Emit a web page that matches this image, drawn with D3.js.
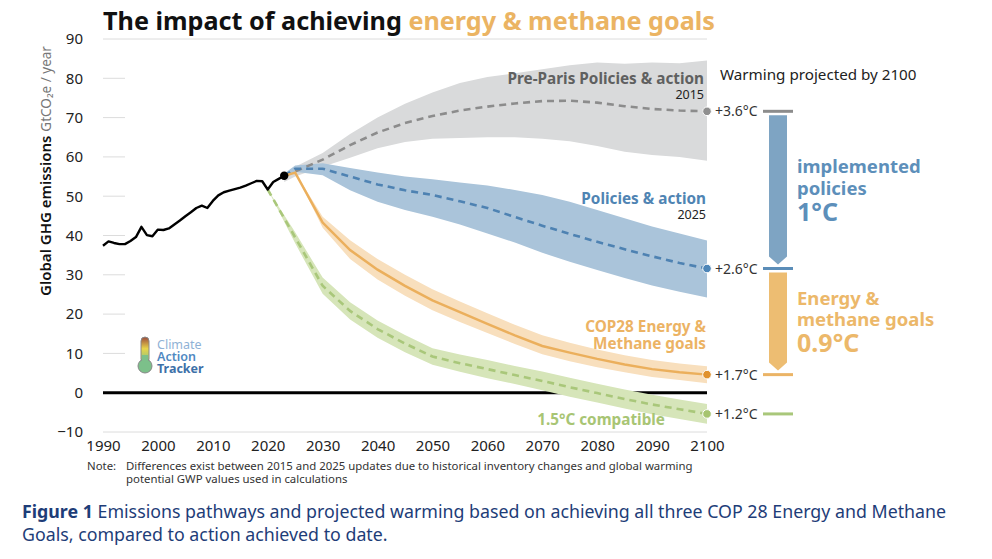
<!DOCTYPE html>
<html>
<head>
<meta charset="utf-8">
<script src="https://cdn.jsdelivr.net/npm/d3@7/dist/d3.min.js"></script>
<style>
  body { margin: 0; background: #fff; }
  svg { display: block; font-family: 'Noto Sans', 'Open Sans', sans-serif; }
</style>
</head>
<body>
<div id="chart"></div>
<script>
// historical emissions
const histYears = [1990, 1991, 1992, 1993, 1994, 1995, 1996, 1997, 1998, 1999, 2000, 2001, 2002, 2003, 2004, 2005, 2006,
  2007, 2008, 2009, 2010, 2011, 2012, 2013, 2014, 2015, 2016, 2017, 2018, 2019, 2020, 2021, 2022, 2023];
const histValues = [37.4, 38.5, 38.1, 37.8, 37.8, 38.6, 39.6, 42.2, 40.1, 39.8, 41.5, 41.4, 41.8, 42.8, 43.8, 44.9, 45.9,
  47.0, 47.6, 47.0, 48.8, 50.2, 51.0, 51.4, 51.8, 52.2, 52.7, 53.3, 53.9, 53.8, 51.7, 53.6, 54.4, 55.2];

// projections
const projYears = [2023, 2025, 2030, 2035, 2040, 2045, 2050, 2055, 2060, 2065, 2070, 2075, 2080, 2085, 2090, 2095, 2100];
const preParisMid = [55.2, 56.3, 59.3, 63.0, 66.2, 68.6, 70.4, 71.8, 72.8, 73.6, 74.2, 74.3, 73.8, 72.9, 72.2, 71.8, 71.6];
const preParisHigh = [55.6, 57.5, 61.0, 65.8, 70.0, 73.5, 76.4, 78.8, 80.3, 81.3, 82.3, 83.3, 84.0, 83.7, 84.0, 83.8, 84.5];
const preParisLow = [53.6, 55.0, 57.5, 59.8, 62.2, 63.8, 64.6, 64.8, 65.0, 65.0, 64.6, 64.0, 62.8, 61.3, 60.5, 60.0, 59.0];

const policyMid = [55.2, 57.0, 57.0, 55.0, 53.0, 51.5, 50.3, 48.7, 47.0, 44.7, 42.5, 40.4, 38.4, 36.5, 34.7, 33.0, 31.6];
const policyHigh = [55.8, 57.8, 58.4, 57.2, 56.0, 55.0, 54.3, 53.5, 52.7, 51.6, 50.3, 48.6, 46.5, 44.4, 42.3, 40.5, 38.7];
const policyLow = [55.0, 56.2, 55.3, 51.5, 48.6, 46.5, 44.8, 42.8, 40.5, 38.2, 35.6, 33.3, 31.2, 29.2, 27.3, 25.7, 24.2];

const cop28Mid = [55.2, 56.0, 43.3, 36.3, 31.3, 27.2, 23.5, 20.5, 17.5, 14.6, 11.9, 10.2, 8.6, 7.2, 6.0, 5.2, 4.6];
const cop28High = [55.2, 56.0, 44.8, 38.8, 34.0, 30.0, 26.3, 23.2, 20.2, 17.3, 14.6, 12.7, 11.0, 9.5, 8.3, 7.4, 6.7];
const cop28Low = [55.2, 56.0, 42.0, 34.0, 28.8, 24.7, 21.0, 18.0, 15.2, 12.4, 9.8, 8.0, 6.5, 5.2, 4.0, 3.2, 2.4];

const greenYears = [2020, 2025, 2030, 2035, 2040, 2045, 2050, 2055, 2060, 2065, 2070, 2075, 2080, 2085, 2090, 2095, 2100];
const greenMid = [51.7, 39.5, 27.2, 20.8, 16.2, 12.5, 9.2, 7.5, 6.0, 4.5, 3.0, 1.4, -0.1, -1.6, -3.0, -4.2, -5.4];
const greenHigh = [51.7, 40.8, 29.3, 23.0, 18.4, 14.7, 11.3, 9.7, 8.3, 6.8, 5.4, 3.8, 2.3, 0.8, -0.5, -1.7, -2.9];
const greenLow = [51.7, 38.0, 25.2, 18.6, 14.0, 10.3, 7.1, 5.3, 3.7, 2.2, 0.6, -1.0, -2.5, -4.0, -5.5, -6.7, -7.9];

const warmingLabels = ['+3.6°C', '+2.6°C', '+1.7°C', '+1.2°C'];
const yTicks = [-10, 0, 10, 20, 30, 40, 50, 60, 70, 80, 90];
const xTicks = [1990, 2000, 2010, 2020, 2030, 2040, 2050, 2060, 2070, 2080, 2090, 2100];

const W = 992, H = 559;
const svg = d3.select('#chart').append('svg').attr('width', W).attr('height', H);

const x = d3.scaleLinear().domain([1990, 2100]).range([103, 707]);
const y = d3.scaleLinear().domain([-10, 90]).range([432, 39]);

// title
const title = svg.append('text').attr('x', 103).attr('y', 30)
  .attr('font-size', 25.2).attr('font-weight', 700);
title.append('tspan').attr('fill', '#111').text('The impact of achieving ');
title.append('tspan').attr('fill', '#ebb463').text('energy & methane goals');

// grid
svg.append('g').selectAll('line').data(yTicks).enter().append('line')
  .attr('x1', 103)
  .attr('x2', d => (d === 90 || d === -10 || d === 0) ? 707 : 125)
  .attr('y1', d => y(d)).attr('y2', d => y(d))
  .attr('stroke', d => d === 0 ? '#000' : '#dcdcdc')
  .attr('stroke-width', d => d === 0 ? 3 : 1);

// axes
const yAxis = svg.append('g').attr('transform', 'translate(103,0)')
  .call(d3.axisLeft(y).tickValues(yTicks).tickSize(0).tickPadding(20));
yAxis.select('.domain').remove();
yAxis.selectAll('text').attr('font-size', 15).attr('fill', '#222').attr('font-family', 'Noto Sans');

const xAxis = svg.append('g').attr('transform', 'translate(0,432)')
  .call(d3.axisBottom(x).tickValues(xTicks).tickFormat(d3.format('d')).tickSize(0).tickPadding(8));
xAxis.select('.domain').remove();
xAxis.selectAll('text').attr('font-size', 15).attr('fill', '#222').attr('font-family', 'Noto Sans');

// y label
const yl = svg.append('text').attr('transform', 'translate(51,171) rotate(-90)')
  .attr('text-anchor', 'middle');
yl.append('tspan').attr('font-size', 15).attr('font-weight', 600).attr('fill', '#111').text('Global GHG emissions ');
yl.append('tspan').attr('font-size', 13.5).attr('fill', '#777').text('GtCO₂e / year');

// bands
const band = (years, lo, hi) => d3.area()
  .x((d, i) => x(years[i]))
  .y0((d, i) => y(lo[i]))
  .y1((d, i) => y(hi[i]))(years);

const line = (years, vals) => d3.line()
  .x((d, i) => x(years[i]))
  .y((d, i) => y(vals[i]))(years);

svg.append('path').attr('d', band(projYears, preParisLow, preParisHigh)).attr('fill', '#d9dadb');
svg.append('path').attr('d', band(projYears, policyLow, policyHigh)).attr('fill', '#aac4da');
svg.append('path').attr('d', band(projYears, cop28Low, cop28High)).attr('fill', '#f8dfbd');
svg.append('path').attr('d', band(greenYears, greenLow, greenHigh)).attr('fill', '#d6e5b9');

svg.append('path').attr('d', line(projYears, preParisMid)).attr('fill', 'none')
  .attr('stroke', '#8c8c8c').attr('stroke-width', 2.6).attr('stroke-dasharray', '7,5');
svg.append('path').attr('d', line(projYears, policyMid)).attr('fill', 'none')
  .attr('stroke', '#4e82b2').attr('stroke-width', 2.6).attr('stroke-dasharray', '7,5');
svg.append('path').attr('d', line(projYears, cop28Mid)).attr('fill', 'none')
  .attr('stroke', '#ebaf5c').attr('stroke-width', 2.5);
svg.append('path').attr('d', line(greenYears, greenMid)).attr('fill', 'none')
  .attr('stroke', '#a9c77a').attr('stroke-width', 2.6).attr('stroke-dasharray', '7,5');

// historical
svg.append('path').attr('d', line(histYears, histValues)).attr('fill', 'none')
  .attr('stroke', '#000').attr('stroke-width', 2.4).attr('stroke-linejoin', 'round');
svg.append('circle').attr('cx', x(histYears[histYears.length - 1])).attr('cy', y(histValues[histValues.length - 1]))
  .attr('r', 4.2).attr('fill', '#000');

// end points + warming labels
const ends = [
  { v: preParisMid[16], dot: '#8f8f8f', tick: '#8c8c8c' },
  { v: policyMid[16], dot: '#4e86b8', tick: '#5b8db8' },
  { v: cop28Mid[16], dot: '#e0922f', tick: '#ebb466' },
  { v: greenMid[16], dot: '#a6c46f', tick: '#a9c77a' }
];
ends.forEach((e, i) => {
  svg.append('circle').attr('cx', x(2100)).attr('cy', y(e.v)).attr('r', 4.3)
    .attr('fill', e.dot).attr('stroke', '#fff').attr('stroke-width', 1);
  svg.append('text').attr('x', 715).attr('y', y(e.v)).attr('dy', '0.36em')
    .attr('font-size', 14).attr('fill', '#333').text(warmingLabels[i]);
  svg.append('line').attr('x1', 763).attr('x2', 793).attr('y1', y(e.v)).attr('y2', y(e.v))
    .attr('stroke', e.tick).attr('stroke-width', 3);
});

svg.append('text').attr('x', 720).attr('y', 80).attr('font-size', 15.2).attr('fill', '#222')
  .text('Warming projected by 2100');

// arrows
const arrow = (y0, y1, col) => {
  const p = d3.path();
  p.moveTo(769, y0); p.lineTo(787, y0); p.lineTo(787, y1 - 8);
  p.lineTo(778, y1); p.lineTo(769, y1 - 8); p.closePath();
  svg.append('path').attr('d', p.toString()).attr('fill', col);
};
arrow(y(ends[0].v) + 4, y(ends[1].v) - 4, '#7ea4c3');
arrow(y(ends[1].v) + 4, y(ends[2].v) - 4, '#edbd72');

const rtext = (lines, col) => lines.forEach(l => {
  svg.append('text').attr('x', 797).attr('y', l[0]).attr('font-size', l[1])
    .attr('font-weight', 700).attr('fill', col).text(l[2]);
});
rtext([[173, 18.5, 'implemented'], [195, 18.5, 'policies'], [221, 25, '1°C']], '#5d8fba');
rtext([[305, 18.5, 'Energy &'], [326, 18.5, 'methane goals'], [352, 25, '0.9°C']], '#ecb86a');

// series labels
const slabel = (xx, yy, size, weight, col, txt) => svg.append('text').attr('x', xx).attr('y', yy)
  .attr('text-anchor', 'end').attr('font-size', size).attr('font-weight', weight).attr('fill', col).text(txt);
slabel(704, 84, 15.3, 700, '#5f6060', 'Pre-Paris Policies & action');
slabel(704, 99, 12.5, 400, '#222', '2015');
slabel(706, 204, 15.3, 700, '#4f84b3', 'Policies & action');
slabel(706, 219, 12.5, 400, '#222', '2025');
slabel(706, 332, 15.3, 700, '#ecb364', 'COP28 Energy &');
slabel(706, 349, 15.3, 700, '#ecb364', 'Methane goals');
slabel(665, 425, 15.3, 700, '#a8c574', '1.5°C compatible');

// logo
const defs = svg.append('defs');
const grad = defs.append('linearGradient').attr('id', 'thermo').attr('x1', 0).attr('x2', 0).attr('y1', 0).attr('y2', 1);
grad.append('stop').attr('offset', '0%').attr('stop-color', '#9c4a3c');
grad.append('stop').attr('offset', '45%').attr('stop-color', '#e8d44a');
grad.append('stop').attr('offset', '100%').attr('stop-color', '#7cc08a');
svg.append('rect').attr('x', 141).attr('y', 337).attr('width', 8).attr('height', 26).attr('rx', 4)
  .attr('fill', 'url(#thermo)').attr('stroke', '#888').attr('stroke-width', 1);
svg.append('circle').attr('cx', 145).attr('cy', 366).attr('r', 7)
  .attr('fill', '#7cc08a').attr('stroke', '#888').attr('stroke-width', 1);
svg.append('rect').attr('x', 142).attr('y', 355).attr('width', 6).attr('height', 8).attr('fill', '#7cc08a');
svg.append('text').attr('x', 157).attr('y', 349).attr('font-size', 12.5).attr('fill', '#8fb2d6').text('Climate');
svg.append('text').attr('x', 157).attr('y', 361).attr('font-size', 12.5).attr('font-weight', 600).attr('fill', '#4f89c2').text('Action');
svg.append('text').attr('x', 157).attr('y', 373).attr('font-size', 12.5).attr('font-weight', 700).attr('fill', '#3d70a8').text('Tracker');

// note
svg.append('text').attr('x', 87).attr('y', 470).attr('font-size', 11.4).attr('fill', '#333').text('Note:');
svg.append('text').attr('x', 126).attr('y', 470).attr('font-size', 11.4).attr('fill', '#333')
  .text('Differences exist between 2015 and 2025 updates due to historical inventory changes and global warming');
svg.append('text').attr('x', 126).attr('y', 483).attr('font-size', 11.4).attr('fill', '#333')
  .text('potential GWP values used in calculations');

// caption
const cap1 = svg.append('text').attr('x', 22).attr('y', 518).attr('font-size', 17.8).attr('fill', '#1e3d78');
cap1.append('tspan').attr('font-weight', 700).text('Figure 1');
cap1.append('tspan').text(' Emissions pathways and projected warming based on achieving all three COP 28 Energy and Methane');
svg.append('text').attr('x', 22).attr('y', 541).attr('font-size', 17.8).attr('fill', '#1e3d78')
  .text('Goals, compared to action achieved to date.');
</script>
</body>
</html>
